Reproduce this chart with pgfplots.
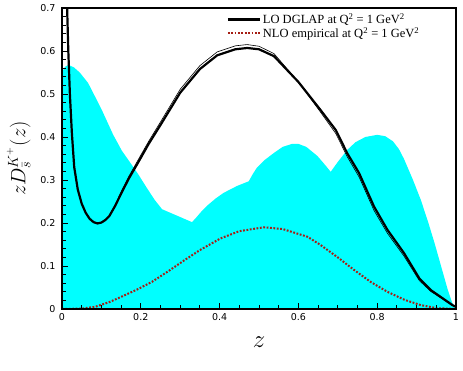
\documentclass[border=0pt]{standalone}
\usepackage{fontspec}
\setmainfont{Liberation Serif}
\newfontfamily\tickf{DejaVu Sans}
\usepackage{pgfplots}
\pgfplotsset{compat=1.18}

\definecolor{nlored}{RGB}{165,30,20}
\definecolor{aqua}{RGB}{0,255,255}

\pgfplotstableread{
x y
0.000 0.548
0.005 0.560
0.010 0.565
0.018 0.567
0.030 0.562
0.045 0.550
0.066 0.526
0.085 0.492
0.100 0.465
0.109 0.447
0.130 0.405
0.152 0.368
0.175 0.338
0.193 0.314
0.215 0.282
0.235 0.254
0.254 0.232
0.330 0.202
0.340 0.212
0.355 0.228
0.368 0.240
0.390 0.257
0.410 0.270
0.444 0.286
0.474 0.297
0.485 0.315
0.495 0.329
0.515 0.347
0.538 0.363
0.560 0.377
0.584 0.384
0.600 0.384
0.620 0.377
0.648 0.356
0.665 0.338
0.682 0.319
0.700 0.342
0.724 0.370
0.745 0.388
0.770 0.400
0.800 0.405
0.820 0.402
0.840 0.390
0.855 0.372
0.868 0.349
0.890 0.302
0.911 0.253
0.930 0.200
0.945 0.155
0.962 0.100
0.979 0.045
0.990 0.015
1.000 0.000
}\shade

\pgfplotstableread{
x y
0.011 0.760
0.013 0.700
0.016 0.600
0.020 0.500
0.025 0.410
0.031 0.330
0.040 0.278
0.050 0.245
0.060 0.224
0.070 0.210
0.080 0.202
0.090 0.199
0.100 0.201
0.110 0.207
0.120 0.216
0.135 0.240
0.152 0.272
0.170 0.304
0.194 0.342
0.220 0.384
0.250 0.428
0.300 0.503
0.350 0.558
0.394 0.590
0.440 0.604
0.470 0.607
0.500 0.604
0.538 0.588
0.600 0.528
0.656 0.463
0.695 0.416
0.724 0.362
0.754 0.316
0.792 0.238
0.826 0.184
0.868 0.130
0.907 0.071
0.936 0.044
0.991 0.009
1.000 0.005
}\lo

\pgfplotstableread{
x y
0.011 0.760
0.013 0.700
0.016 0.600
0.020 0.500
0.025 0.410
0.031 0.330
0.040 0.278
0.050 0.245
0.060 0.224
0.070 0.210
0.080 0.202
0.090 0.199
0.100 0.201
0.110 0.207
0.120 0.217
0.135 0.242
0.152 0.276
0.170 0.309
0.194 0.348
0.220 0.390
0.250 0.435
0.300 0.511
0.350 0.566
0.394 0.598
0.440 0.612
0.470 0.615
0.500 0.611
0.538 0.594
0.600 0.528
0.656 0.458
0.695 0.408
0.724 0.354
0.754 0.307
0.792 0.229
0.826 0.176
0.868 0.123
0.907 0.066
0.936 0.041
0.991 0.008
1.000 0.005
}\lothin

\pgfplotstableread{
x y
0.000 0.000
0.050 0.001
0.084 0.005
0.120 0.016
0.152 0.029
0.190 0.045
0.228 0.063
0.270 0.088
0.310 0.113
0.350 0.137
0.402 0.164
0.450 0.181
0.512 0.190
0.560 0.186
0.623 0.168
0.656 0.149
0.700 0.120
0.741 0.091
0.785 0.062
0.826 0.040
0.870 0.021
0.911 0.009
0.950 0.002
1.000 0.000
}\nlo

\begin{document}
\begin{tikzpicture}
\begin{axis}[
    scale only axis,
    width=394pt, height=301pt,
    xmin=0, xmax=1, ymin=0, ymax=0.7,
    xtick={0,0.2,...,1}, ytick={0,0.1,...,0.7},
    minor x tick num=3, minor y tick num=4,
    xtick pos=bottom, ytick pos=left,
    tick align=inside,
    major tick length=6pt, minor tick length=3.5pt,
    every tick/.style={black, line width=0.9pt},
    axis line style={line width=1.4pt},
    axis on top,
    /pgf/number format/assume math mode=true,
    tick label style={font=\tickf\fontsize{9.5}{11}\selectfont},
    yticklabel style={xshift=-3pt},
    xticklabel style={yshift=-1pt},
    xlabel={$z$},
    ylabel={$z D^{K^+}_{\bar{s}}(z)$},
    xlabel style={font=\fontsize{26}{28}\selectfont, yshift=-9pt},
    ylabel style={font=\fontsize{20}{22}\selectfont, yshift=3pt},
    legend style={at={(0.41,0.995)}, anchor=north west, draw=none, fill=none,
        font=\fontsize{12.5}{15}\selectfont, row sep=-2pt},
    legend cell align=left,
    legend image code/.code={\draw[#1] (0cm,0cm) -- (32pt,0cm);},
]
\addplot[fill=aqua, draw=none, forget plot] table[x=x, y=y] {\shade} \closedcycle;
\addplot[black, line width=0.6pt, forget plot] table[x=x, y=y] {\lothin};
\addplot[black, line width=2.2pt] table[x=x, y=y] {\lo};
\addplot[nlored, line width=2pt, dash pattern=on 1.8pt off 1.6pt] table[x=x, y=y] {\nlo};
\legend{LO DGLAP at Q\textsuperscript{2} = 1 GeV\textsuperscript{2},
        NLO empirical at Q\textsuperscript{2} = 1 GeV\textsuperscript{2}}
\end{axis}
\pgfresetboundingbox
\path[use as bounding box] (current axis.south west) ++(-62pt,-62pt) rectangle ++(463pt,371pt);
\end{tikzpicture}
\end{document}
